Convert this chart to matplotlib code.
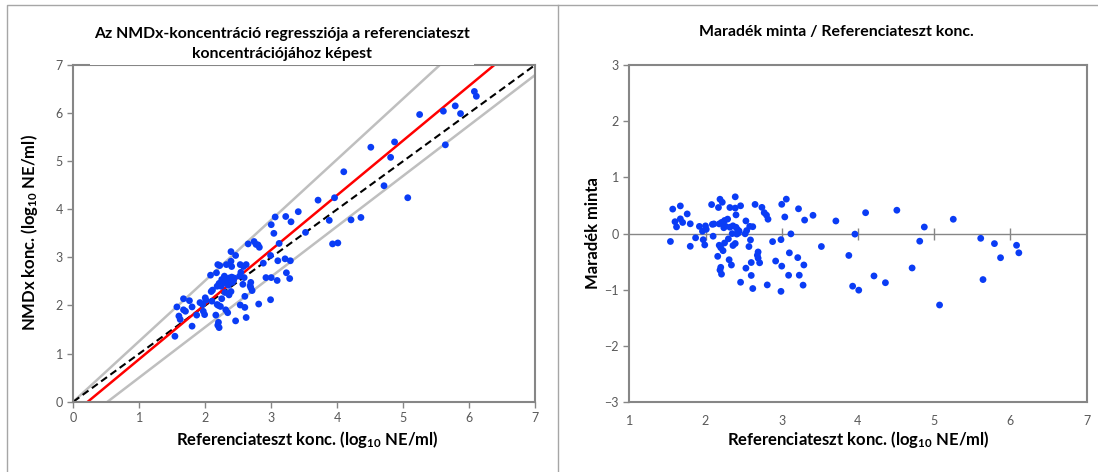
import numpy as np
import matplotlib.pyplot as plt
from matplotlib.lines import Line2D

plt.rcParams['font.family'] = ['Lato', 'DejaVu Sans']
plt.rcParams['mathtext.default'] = 'regular'

# referenciateszt (x) es NMDx (y) koncentraciok, log10 NE/ml
ref_conc = [1.54, 1.57, 1.60, 1.62, 1.67, 1.67, 1.70, 1.76, 1.80, 1.80,
            1.87, 1.92, 1.96, 1.97, 1.99, 2.00, 2.01, 2.08, 2.09, 2.10,
            2.11, 2.16, 2.17, 2.18, 2.18, 2.19, 2.19, 2.20, 2.21, 2.20,
            2.21, 2.22, 2.23, 2.24, 2.25, 2.25, 2.26, 2.29, 2.30, 2.31,
            2.32, 2.32, 2.34, 2.35, 2.36, 2.36, 2.39, 2.39, 2.39, 2.40,
            2.40, 2.41, 2.42, 2.43, 2.44, 2.46, 2.46, 2.52, 2.53, 2.53,
            2.54, 2.57, 2.58, 2.59, 2.60, 2.60, 2.62, 2.62, 2.65, 2.68,
            2.69, 2.69, 2.71, 2.74, 2.77, 2.80, 2.81, 2.82, 2.88, 2.92,
            2.99, 2.99, 3.00, 3.00, 3.04, 3.06, 3.09, 3.10, 3.12, 3.21,
            3.22, 3.23, 3.28, 3.29, 3.30, 3.41, 3.52, 3.71, 3.88, 3.93,
            3.96, 4.01, 4.10, 4.21, 4.36, 4.51, 4.71, 4.81, 4.87, 5.07,
            5.25, 5.61, 5.64, 5.79, 5.87, 6.08, 6.11]
nmdx_conc = [1.36, 1.97, 1.78, 1.71, 2.14, 1.91, 1.88, 2.10, 1.97, 1.57,
             1.80, 2.06, 2.02, 1.88, 1.81, 2.16, 2.11, 2.63, 2.29, 2.09,
             2.32, 1.80, 2.68, 2.40, 2.02, 1.59, 2.85, 1.65, 1.54, 2.00,
             2.46, 2.83, 1.98, 2.40, 2.54, 2.14, 2.45, 2.61, 2.27, 1.91,
             2.85, 2.50, 1.85, 2.42, 2.22, 2.57, 3.12, 2.92, 2.29, 2.81,
             2.59, 2.48, 2.57, 2.52, 2.57, 1.68, 3.04, 2.61, 2.01, 2.85,
             2.69, 2.44, 2.81, 2.58, 2.19, 1.96, 2.85, 1.75, 3.28, 2.41,
             2.48, 2.37, 2.31, 3.33, 3.27, 3.26, 2.03, 3.21, 2.88, 2.58,
             3.04, 2.12, 3.68, 2.58, 3.50, 3.84, 2.52, 2.93, 3.29, 2.97,
             3.85, 2.68, 2.56, 2.93, 3.74, 3.95, 3.52, 4.19, 3.77, 3.28,
             4.24, 3.30, 4.78, 3.78, 3.83, 5.29, 4.49, 5.08, 5.40, 4.24,
             5.97, 6.04, 5.34, 6.15, 5.99, 6.45, 6.35]

# regresszios egyenes es a hatarvonalak (meredekseg, tengelymetszet)
fit_line = (1.136, -0.25)
upper_line = (1.26, 0.0)
lower_line = (1.048, -0.545)

x = np.array(ref_conc)
y = np.array(nmdx_conc)
resid = y - (fit_line[0] * x + fit_line[1])

dot_color = '#0a3cf5'
frame_color = '#868686'
tick_color = '#595959'

fig = plt.figure(figsize=(10.98, 4.72), dpi=100)
ax1 = fig.add_axes([0.0668, 0.149, 0.4205, 0.7133])
ax2 = fig.add_axes([0.5731, 0.1477, 0.4166, 0.7146])

xs = np.array([0, 7])
ax1.plot(xs, upper_line[0] * xs + upper_line[1], color='#bfbfbf', lw=1.8, zorder=1)
ax1.plot(xs, lower_line[0] * xs + lower_line[1], color='#bfbfbf', lw=1.8, zorder=1)
ax1.plot(xs, xs, color='black', lw=1.5, dashes=(3.5, 2), zorder=2)
ax1.plot(xs, fit_line[0] * xs + fit_line[1], color='#ff0000', lw=1.8, zorder=2)
ax1.scatter(x, y, s=24, color=dot_color, edgecolors='none', zorder=3)
ax1.set_xlim(0, 7)
ax1.set_ylim(0, 7)
ax1.set_xticks(range(0, 8))
ax1.set_yticks(range(0, 8))

ax2.axhline(0, color=frame_color, lw=1, zorder=1)
ax2.plot(range(2, 7), np.zeros(5), ls='none', marker='|', ms=9, mew=1,
         color=frame_color, zorder=1)
ax2.scatter(x, resid, s=24, color=dot_color, edgecolors='none', zorder=3)
ax2.set_xlim(1, 7)
ax2.set_ylim(-3, 3)
ax2.set_xticks(range(1, 8))
ax2.set_yticks(range(-3, 4))

for ax in (ax1, ax2):
    for sp in ax.spines.values():
        sp.set_color(frame_color)
        sp.set_linewidth(1.5)
    ax.tick_params(colors=frame_color, labelcolor=tick_color, labelsize=9,
                   direction='out', length=4, width=1)
ax2.tick_params(axis='x', length=0, pad=9)

fig.text(0.2568, 0.9068,
         'Az NMDx-koncentráció regressziója a referenciateszt\nkoncentrációjához képest',
         ha='center', va='center', fontsize=11.3, fontweight='bold',
         linespacing=1.55, bbox=dict(facecolor='white', edgecolor='none', pad=3))
fig.text(0.7614, 0.932, 'Maradék minta / Referenciateszt konc.',
         ha='center', va='center', fontsize=11.4, fontweight='bold')

xlab = 'Referenciateszt konc. (log$_{10}$ NE/ml)'
fig.text(0.2796, 0.068, xlab, ha='center', va='center', fontsize=12, fontweight='bold')
fig.text(0.7814, 0.068, xlab, ha='center', va='center', fontsize=12, fontweight='bold')
fig.text(0.0273, 0.5064, 'NMDx konc. (log$_{10}$ NE/ml)', ha='center', va='center',
         rotation=90, fontsize=12, fontweight='bold')
fig.text(0.540, 0.5064, 'Maradék minta', ha='center', va='center',
         rotation=90, fontsize=12, fontweight='bold')

# a ket diagram kerete
border = '#a6a6a6'
fig.add_artist(Line2D([7 / 1098, 7 / 1098, 1], [0, 1 - 5 / 472, 1 - 5 / 472],
                      transform=fig.transFigure, color=border, lw=1))
fig.add_artist(Line2D([557.5 / 1098, 557.5 / 1098], [0, 1 - 5 / 472],
                      transform=fig.transFigure, color=border, lw=1))

fig.savefig('out.png', dpi=100)
